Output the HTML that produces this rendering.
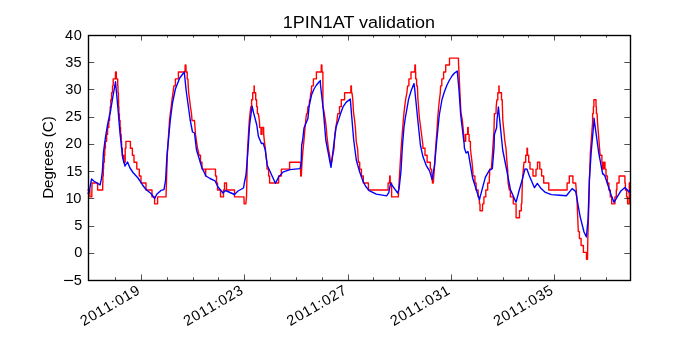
<!DOCTYPE html><html><head><meta charset="utf-8"><style>html,body{margin:0;padding:0;background:#fff;width:700px;height:350px;overflow:hidden}svg{display:block;will-change:transform}text{font-family:"Liberation Sans",sans-serif;fill:#000}</style></head><body>
<svg width="700" height="350" viewBox="0 0 700 350">
<rect width="700" height="350" fill="#fff"/>
<defs><clipPath id="c"><rect x="87.5" y="35" width="542.5" height="245"/></clipPath></defs>
<g clip-path="url(#c)" fill="none" stroke-width="1.39" stroke-linejoin="round">
<polyline stroke="#ff0000" points="87.00,189.94 89.90,189.94 89.90,196.88 91.80,196.88 92.00,183.00 97.60,183.00 97.60,189.94 102.10,189.94 102.70,189.94 102.70,183.00 102.90,183.00 102.90,176.06 103.30,176.06 103.30,169.12 103.60,169.12 103.60,162.18 104.30,162.18 104.30,155.24 104.80,155.24 104.80,148.30 105.40,148.30 105.40,141.36 106.60,141.36 106.60,134.42 107.60,134.42 107.60,127.48 108.80,127.48 108.80,120.54 109.60,120.54 109.60,113.60 110.20,113.60 110.20,106.66 110.80,106.66 110.80,99.72 111.60,99.72 111.60,92.78 112.50,92.78 112.50,85.84 113.20,85.84 113.20,78.90 113.20,78.90 115.40,78.90 115.50,71.96 116.30,71.96 116.40,78.90 117.70,78.90 117.70,78.90 117.70,85.84 118.00,85.84 118.00,92.78 118.40,92.78 118.40,99.72 118.60,99.72 118.60,106.66 118.90,106.66 118.90,113.60 119.40,113.60 119.40,120.54 120.10,120.54 120.10,127.48 120.60,127.48 120.60,134.42 121.20,134.42 121.20,141.36 121.60,141.36 121.60,148.30 122.30,148.30 122.30,155.24 123.70,155.24 123.70,162.18 123.70,162.18 125.20,162.18 125.20,148.30 125.90,148.30 125.90,141.36 130.40,141.36 130.40,148.30 132.40,148.30 132.40,155.24 134.00,155.24 134.00,162.18 136.80,162.18 136.80,169.12 139.30,169.12 139.30,176.06 141.00,176.06 141.00,183.00 146.00,183.00 146.00,189.94 152.00,189.94 152.00,196.88 154.60,196.88 154.60,203.82 157.60,203.82 157.60,196.88 166.00,196.88 167.30,155.00 169.50,120.50 170.30,113.60 171.20,106.66 172.00,99.72 173.00,92.78 173.90,85.84 175.40,85.84 175.40,78.90 178.40,78.90 178.40,71.96 185.00,71.96 185.20,65.02 185.90,65.02 186.10,71.96 187.20,71.96 187.20,78.90 187.90,78.90 188.20,85.84 188.70,92.78 189.60,99.72 190.40,106.66 191.50,113.60 192.00,120.54 194.50,120.54 195.00,127.48 195.50,134.42 196.50,141.36 197.50,148.30 198.50,152.00 199.00,155.24 200.50,155.24 200.50,162.18 202.00,162.18 202.00,169.12 205.30,169.12 205.50,176.06 205.60,176.06 205.80,169.12 215.50,169.12 215.50,176.06 216.50,176.06 216.50,183.00 217.50,183.00 217.50,189.94 220.50,189.94 220.50,196.88 223.50,196.88 223.50,189.94 224.50,189.94 224.50,183.00 226.50,183.00 226.50,189.94 234.50,189.94 234.50,196.88 244.00,196.88 244.10,203.82 245.80,203.82 246.50,196.88 247.50,150.00 249.30,120.54 250.00,113.60 250.80,106.66 251.60,106.66 251.60,99.72 252.70,99.72 252.70,92.78 254.10,92.78 254.10,85.84 254.30,85.84 254.30,92.78 255.70,92.78 255.70,99.72 256.60,99.72 256.60,106.66 257.40,106.66 257.40,113.60 258.30,113.60 259.40,120.54 259.70,127.48 261.00,127.48 261.00,134.42 262.00,134.42 262.00,127.48 263.60,127.48 263.70,134.42 264.40,141.36 265.30,148.30 265.90,155.24 267.00,162.18 267.10,169.12 268.60,169.12 268.60,176.06 269.60,176.06 269.60,183.00 278.60,183.00 278.60,176.06 281.40,176.06 281.40,169.12 289.60,169.12 289.60,162.18 300.50,162.18 300.70,176.06 301.30,176.06 302.00,162.18 303.00,150.00 304.00,140.00 305.30,125.00 306.10,117.00 306.60,113.60 307.40,113.60 307.90,106.66 309.10,106.66 309.60,99.72 310.20,99.72 310.70,92.78 311.20,92.78 311.70,85.84 313.40,85.84 313.40,78.90 316.40,78.90 316.40,71.96 321.20,71.96 321.30,65.02 321.90,65.02 322.00,71.96 322.90,71.96 322.90,106.66 323.70,110.00 325.40,120.30 326.30,128.00 326.80,135.00 327.60,141.90 328.40,148.70 329.70,155.60 330.40,162.18 331.60,162.18 332.70,155.60 334.00,148.70 334.80,134.90 335.70,128.00 337.00,120.30 337.80,113.60 338.40,113.60 339.50,113.60 339.50,106.66 341.30,106.66 341.30,99.72 344.60,99.72 344.60,92.78 350.80,92.78 350.90,85.84 351.40,85.84 351.50,92.78 352.00,92.78 352.80,99.72 353.50,112.00 354.60,120.30 355.40,128.00 356.30,141.90 357.60,148.70 358.40,162.18 359.70,162.18 359.70,169.12 361.40,169.12 361.40,176.06 363.30,176.06 363.30,183.00 368.40,183.00 368.40,189.94 388.10,189.94 388.10,183.00 389.60,183.00 389.70,176.06 390.10,176.06 390.30,183.00 391.60,183.00 391.60,196.88 398.30,196.88 399.50,175.00 401.00,150.00 402.50,130.00 403.90,113.60 404.70,106.66 405.60,99.72 406.90,92.78 407.60,85.84 408.90,85.84 408.90,78.90 411.00,78.90 411.00,71.96 414.80,71.96 414.90,65.02 415.40,65.02 415.50,71.96 415.70,71.96 415.70,78.90 416.60,78.90 416.60,85.84 417.40,85.84 417.90,99.00 418.70,109.00 419.40,118.00 421.00,130.00 422.90,145.00 422.90,148.30 425.00,148.30 425.00,155.24 427.10,155.24 427.10,162.18 430.30,162.18 430.30,169.12 431.60,169.12 432.50,183.00 433.30,183.00 434.30,169.12 435.50,150.00 437.00,130.00 437.70,118.00 438.60,107.70 439.40,100.00 440.30,93.00 440.60,85.84 441.80,85.84 441.80,78.90 443.60,78.90 443.60,71.96 445.70,71.96 445.70,65.02 449.50,65.02 449.50,58.08 458.40,58.08 458.60,65.02 459.00,71.96 459.80,90.00 460.90,112.00 462.30,120.00 463.10,127.70 463.60,134.42 464.00,134.42 464.00,141.36 465.70,141.36 465.70,134.42 467.70,134.42 467.70,127.48 468.20,127.48 468.30,134.42 469.10,134.42 469.10,141.36 470.40,141.36 470.40,148.00 471.20,155.70 472.10,162.60 472.90,172.00 472.90,176.06 474.90,176.06 474.90,183.00 476.10,183.00 476.10,189.94 478.10,189.94 478.10,196.88 479.40,196.88 479.40,203.82 480.00,203.82 480.00,210.76 482.50,210.76 482.60,203.82 483.90,203.82 483.90,196.88 485.80,196.88 485.80,189.94 487.70,189.94 487.70,183.00 489.30,183.00 489.30,176.06 489.60,176.06 489.60,169.12 491.30,169.12 492.00,160.00 492.70,150.00 494.00,130.00 494.40,113.60 494.60,113.60 496.00,113.60 496.20,106.66 496.90,99.72 497.80,99.72 497.80,92.78 498.90,92.78 498.90,85.84 499.10,85.84 499.10,92.78 501.50,92.78 501.50,99.72 502.20,99.72 502.40,106.66 502.80,120.00 504.00,132.00 504.70,140.00 506.00,148.60 506.90,161.40 507.70,170.00 508.10,183.00 509.30,189.94 510.40,189.94 510.40,196.88 513.30,196.88 513.30,203.82 516.10,203.82 516.10,217.70 519.50,217.70 519.50,210.76 521.30,210.76 521.30,203.82 521.80,203.82 522.00,196.88 522.40,180.00 523.30,170.00 524.00,162.18 524.00,162.18 525.70,162.18 525.70,155.24 527.00,155.24 527.00,148.30 527.50,148.30 527.50,155.24 528.70,155.24 528.70,162.18 530.00,162.18 530.00,169.12 533.00,169.12 533.00,176.06 536.00,176.06 536.00,169.12 537.50,169.12 537.50,162.18 539.80,162.18 539.80,169.12 541.60,169.12 541.60,176.06 543.70,176.06 543.70,183.00 548.80,183.00 548.80,189.94 567.10,189.94 567.10,183.00 569.30,183.00 569.30,176.06 572.90,176.06 572.90,183.00 575.70,183.00 577.00,200.00 578.00,224.00 578.30,231.58 579.40,231.58 579.40,238.52 581.10,238.52 581.10,245.46 583.40,245.46 583.40,252.40 586.50,252.40 586.50,259.34 587.50,259.34 587.80,240.00 589.00,200.00 589.40,180.00 590.40,152.00 592.60,122.00 592.60,113.60 593.40,113.60 593.40,106.66 593.90,106.66 593.90,99.72 596.00,99.72 596.00,106.66 596.40,106.66 596.40,113.60 597.10,113.60 597.50,122.00 599.70,150.00 600.10,155.24 601.90,155.24 601.90,162.18 602.30,162.18 602.30,169.12 603.60,169.12 603.60,162.18 605.00,162.18 605.00,169.12 606.00,169.12 606.00,169.12 606.00,176.06 607.40,176.06 607.40,183.00 608.90,183.00 608.90,189.94 610.30,189.94 610.30,196.88 611.70,196.88 611.70,203.82 611.70,203.82 614.90,203.82 614.90,203.82 614.90,196.88 616.30,196.88 616.30,189.94 616.90,189.94 616.90,183.00 616.90,183.00 619.10,183.00 619.10,176.06 624.70,176.06 624.90,176.06 624.90,183.00 625.40,183.00 625.40,189.94 626.60,189.94 626.60,196.88 627.60,196.88 627.60,203.82 627.60,203.82 629.30,203.82 629.30,183.00 633.00,183.00"/>
<polyline stroke="#0000ff" points="87.00,193.50 89.00,192.60 91.60,178.90 93.70,181.00 100.10,184.90 101.40,178.90 102.30,172.00 103.50,152.00 105.50,137.00 107.50,125.00 110.70,110.00 113.00,96.00 115.50,81.80 117.90,108.00 120.00,133.00 122.70,158.00 125.00,166.00 127.50,162.00 130.00,168.00 133.00,172.50 138.00,178.00 140.00,181.00 142.50,185.00 146.00,189.50 151.00,193.50 154.60,198.40 157.00,194.00 161.00,190.40 164.00,189.60 165.60,180.00 167.00,155.00 170.30,120.00 172.50,103.00 175.40,89.00 179.70,78.00 184.30,72.00 186.10,90.00 190.20,120.00 192.50,132.00 194.50,133.00 196.50,150.00 199.00,158.00 202.00,168.00 206.00,176.00 210.00,178.50 215.00,180.80 218.00,187.00 223.00,193.00 225.50,190.50 230.00,192.50 234.50,194.50 238.00,191.00 243.50,188.00 244.50,182.00 246.00,175.00 248.00,150.00 249.60,125.00 252.10,106.10 253.60,112.90 256.80,125.00 258.40,136.30 261.40,143.60 263.10,143.10 265.30,150.00 267.10,165.00 275.40,183.20 278.60,177.10 282.90,172.10 290.00,169.60 300.00,168.60 301.10,165.00 301.70,145.00 302.70,140.00 304.00,128.00 307.90,118.60 309.10,106.40 311.50,95.00 314.00,89.00 316.50,85.00 319.00,82.00 320.30,80.60 320.50,85.00 323.30,110.00 325.80,140.00 331.00,167.30 334.40,140.00 336.10,127.10 339.00,118.60 340.50,113.70 343.00,106.90 346.30,102.10 350.30,99.10 351.60,115.00 353.70,140.00 356.30,160.00 359.70,172.00 363.10,181.40 365.60,186.30 369.10,190.60 376.30,194.10 386.60,195.90 388.80,192.70 390.60,183.10 394.10,188.10 397.70,193.10 399.10,188.40 400.90,172.00 402.50,145.00 404.00,127.00 405.30,118.00 408.60,99.10 411.40,90.00 414.00,83.60 414.60,88.00 417.60,118.00 420.40,145.00 422.90,156.60 426.30,165.60 429.70,171.10 432.10,179.60 434.60,165.00 436.60,142.00 439.30,115.00 442.00,99.50 444.50,91.50 447.00,85.00 449.50,80.00 452.00,76.00 454.50,73.00 457.30,71.10 459.00,90.00 460.70,115.00 464.10,143.30 464.40,148.00 466.10,153.10 467.90,151.40 468.70,154.90 472.60,178.00 479.40,199.60 485.40,177.10 489.30,170.30 492.30,168.60 494.00,148.00 494.40,134.60 496.60,127.70 497.00,120.00 498.40,107.00 502.70,150.00 506.10,167.00 510.40,189.40 515.60,201.50 516.10,202.10 519.00,191.00 522.40,179.20 525.00,168.90 527.00,169.30 529.30,175.70 534.50,187.70 537.30,183.40 541.10,188.60 545.40,192.40 551.40,194.60 560.00,195.20 566.40,195.70 572.10,188.60 575.70,191.40 580.00,216.00 584.00,232.00 586.40,237.00 588.00,220.00 589.40,180.00 591.20,152.00 593.90,122.00 594.00,118.10 598.60,152.00 600.60,162.90 602.70,174.00 603.10,173.70 604.90,176.00 608.30,186.30 611.70,196.60 614.00,202.30 617.40,196.60 620.90,190.90 624.90,187.40 627.10,189.70 628.80,192.10 629.70,190.40 633.00,188.00"/>
</g>
<path fill="none" stroke="#000" stroke-width="0.69" d="M141.5 280V274.44M141.5 35V40.56M244.5 280V274.44M244.5 35V40.56M348.5 280V274.44M348.5 35V40.56M451.5 280V274.44M451.5 35V40.56M554.5 280V274.44M554.5 35V40.56M115.5 280V277.22M115.5 35V37.78M167.5 280V277.22M167.5 35V37.78M193.5 280V277.22M193.5 35V37.78M218.5 280V277.22M218.5 35V37.78M270.5 280V277.22M270.5 35V37.78M296.5 280V277.22M296.5 35V37.78M322.5 280V277.22M322.5 35V37.78M373.5 280V277.22M373.5 35V37.78M399.5 280V277.22M399.5 35V37.78M425.5 280V277.22M425.5 35V37.78M477.5 280V277.22M477.5 35V37.78M503.5 280V277.22M503.5 35V37.78M528.5 280V277.22M528.5 35V37.78M580.5 280V277.22M580.5 35V37.78M606.5 280V277.22M606.5 35V37.78M88 62.5H94.2M630 62.5H624.3M88 89.5H94.2M630 89.5H624.3M88 117.5H94.2M630 117.5H624.3M88 144.5H94.2M630 144.5H624.3M88 171.5H94.2M630 171.5H624.3M88 198.5H94.2M630 198.5H624.3M88 226.5H94.2M630 226.5H624.3M88 253.5H94.2M630 253.5H624.3"/>
<rect x="88.5" y="35.5" width="542" height="245" fill="none" stroke="#000" stroke-width="1.39"/>
<text x="77.70" y="284.83" font-size="14.60" text-anchor="middle">5</text>
<rect x="64.1" y="279.90" width="9.0" height="1.15" fill="#000"/>
<text x="78.20" y="256.61" font-size="14.60" text-anchor="middle">0</text>
<text x="78.20" y="230.39" font-size="14.60" text-anchor="middle">5</text>
<text x="69.50" y="203.17" font-size="14.60" text-anchor="middle">1</text>
<text x="77.30" y="203.17" font-size="14.60" text-anchor="middle">0</text>
<text x="70.30" y="175.94" font-size="14.60" text-anchor="middle">1</text>
<text x="78.20" y="175.94" font-size="14.60" text-anchor="middle">5</text>
<text x="69.20" y="147.72" font-size="14.60" text-anchor="middle">2</text>
<text x="77.90" y="147.72" font-size="14.60" text-anchor="middle">0</text>
<text x="69.40" y="120.50" font-size="14.60" text-anchor="middle">2</text>
<text x="77.90" y="120.50" font-size="14.60" text-anchor="middle">5</text>
<text x="69.40" y="94.18" font-size="14.60" text-anchor="middle">3</text>
<text x="77.60" y="94.18" font-size="14.60" text-anchor="middle">0</text>
<text x="69.20" y="67.05" font-size="14.60" text-anchor="middle">3</text>
<text x="77.60" y="67.05" font-size="14.60" text-anchor="middle">5</text>
<text x="69.10" y="39.83" font-size="14.60" text-anchor="middle">4</text>
<text x="77.70" y="39.83" font-size="14.60" text-anchor="middle">0</text>
<text transform="translate(83.51 326.36) rotate(-30)" x="0.17 9.19 17.96 26.80 35.66 40.38 49.15 58.01" y="0" font-size="14.60">2011:019</text>
<text transform="translate(186.84 326.36) rotate(-30)" x="0.17 9.19 17.96 26.80 35.66 40.38 49.03 58.07" y="0" font-size="14.60">2011:023</text>
<text transform="translate(290.18 326.36) rotate(-30)" x="0.17 9.19 17.96 26.80 35.66 40.38 49.03 58.03" y="0" font-size="14.60">2011:027</text>
<text transform="translate(393.51 326.36) rotate(-30)" x="0.17 9.19 17.96 26.80 35.66 40.38 49.24 57.98" y="0" font-size="14.60">2011:031</text>
<text transform="translate(496.84 326.36) rotate(-30)" x="0.17 9.19 17.96 26.80 35.66 40.38 49.24 58.00" y="0" font-size="14.60">2011:035</text>
<text transform="translate(52.64 198.87) rotate(-90)" font-size="14.2" textLength="82.74" lengthAdjust="spacingAndGlyphs">Degrees (C)</text>
<text x="282.80" y="27.76" font-size="17.1" textLength="152.30" lengthAdjust="spacingAndGlyphs">1PIN1AT validation</text>
</svg></body></html>
